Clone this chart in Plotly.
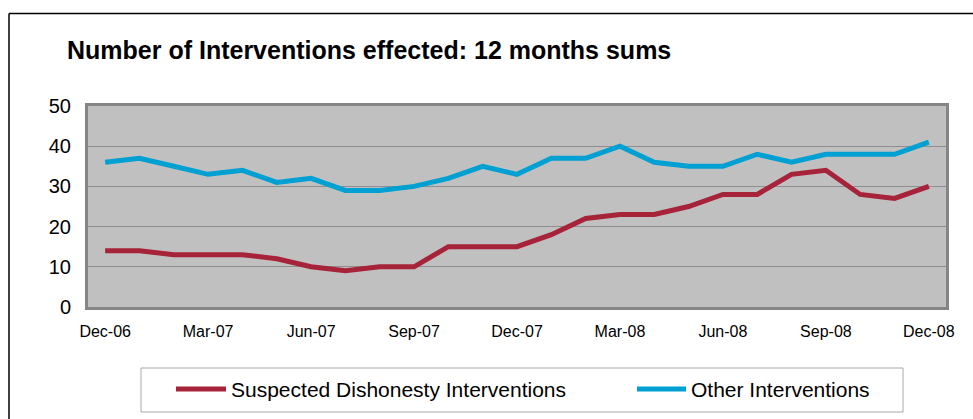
import plotly.graph_objects as go

months = ["Dec-06", "Jan-07", "Feb-07", "Mar-07", "Apr-07", "May-07", "Jun-07", "Jul-07",
          "Aug-07", "Sep-07", "Oct-07", "Nov-07", "Dec-07", "Jan-08", "Feb-08", "Mar-08",
          "Apr-08", "May-08", "Jun-08", "Jul-08", "Aug-08", "Sep-08", "Oct-08", "Nov-08", "Dec-08"]
dishonesty = [14, 14, 13, 13, 13, 12, 10, 9, 10, 10, 15, 15, 15, 18, 22, 23, 23, 25, 28, 28, 33, 34, 28, 27, 30]
other = [36, 37, 35, 33, 34, 31, 32, 29, 29, 30, 32, 35, 33, 37, 37, 40, 36, 35, 35, 38, 36, 38, 38, 38, 41]
tick_labels = ["Dec-06", "Mar-07", "Jun-07", "Sep-07", "Dec-07", "Mar-08", "Jun-08", "Sep-08", "Dec-08"]
y_ticks = [0, 10, 20, 30, 40, 50]
series_names = ["Suspected Dishonesty Interventions", "Other Interventions"]

RED = "#A6233A"
BLUE = "#00A0D2"
FONT = "Liberation Sans, Arial, sans-serif"

WIDTH, HEIGHT = 973, 419
L, R, T, B = 88, 27, 106, 112
PW = WIDTH - L - R
PH = HEIGHT - T - B


def px_x(px):
    return (px - L) / PW


def px_y(py):
    return (HEIGHT - B - py) / PH


fig = go.Figure()
fig.add_trace(go.Scatter(x=months, y=dishonesty, mode="lines", name=series_names[0],
                         line=dict(color=RED, width=5), showlegend=False))
fig.add_trace(go.Scatter(x=months, y=other, mode="lines", name=series_names[1],
                         line=dict(color=BLUE, width=5), showlegend=False))

shapes = []
# outer chart frame (left and top edges visible)
shapes.append(dict(type="line", xref="paper", yref="paper", x0=px_x(9), x1=px_x(9),
                   y0=px_y(13.5), y1=px_y(430), line=dict(color="black", width=1.5)))
shapes.append(dict(type="line", xref="paper", yref="paper", x0=px_x(9), x1=px_x(990),
                   y0=px_y(13.5), y1=px_y(13.5), line=dict(color="black", width=1.5)))
# legend box
shapes.append(dict(type="rect", xref="paper", yref="paper", x0=px_x(141), x1=px_x(903),
                   y0=px_y(368), y1=px_y(412), line=dict(color="#A8A8A8", width=1),
                   fillcolor="white"))
# legend samples
shapes.append(dict(type="line", xref="paper", yref="paper", x0=px_x(176), x1=px_x(226),
                   y0=px_y(389), y1=px_y(389), line=dict(color=RED, width=5)))
shapes.append(dict(type="line", xref="paper", yref="paper", x0=px_x(637), x1=px_x(686),
                   y0=px_y(389), y1=px_y(389), line=dict(color=BLUE, width=5)))

annotations = [
    dict(text=series_names[0], xref="paper", yref="paper", x=px_x(229), y=px_y(389),
         xanchor="left", yanchor="middle", showarrow=False,
         font=dict(family=FONT, size=21, color="black")),
    dict(text=series_names[1], xref="paper", yref="paper", x=px_x(689), y=px_y(389),
         xanchor="left", yanchor="middle", showarrow=False,
         font=dict(family=FONT, size=21, color="black")),
]

fig.update_layout(
    width=WIDTH, height=HEIGHT,
    margin=dict(l=L, r=R, t=T, b=B),
    paper_bgcolor="white",
    plot_bgcolor="#C0C0C0",
    font=dict(family=FONT, color="black"),
    title=dict(text="<b>Number of Interventions effected: 12 months sums</b>",
               x=67 / WIDTH, xanchor="left", xref="container",
               y=1 - 50 / HEIGHT, yanchor="middle", yref="container",
               font=dict(family=FONT, size=25, color="black")),
    showlegend=False,
    shapes=shapes,
    annotations=annotations,
)
fig.update_xaxes(type="category", categoryorder="array", categoryarray=months,
                 range=[-0.5, len(months) - 0.5],
                 tickmode="array", tickvals=tick_labels, ticktext=tick_labels,
                 showgrid=False, ticks="", ticklabelstandoff=8,
                 tickfont=dict(family=FONT, size=16, color="black"),
                 showline=True, mirror=True, linecolor="#858585", linewidth=3, zeroline=False)
fig.update_yaxes(range=[0, 50], tickmode="array", tickvals=y_ticks,
                 showgrid=True, gridcolor="#8E8E8E", gridwidth=1,
                 ticks="", ticklabelstandoff=10,
                 tickfont=dict(family=FONT, size=20, color="black"),
                 showline=True, mirror=True, linecolor="#858585", linewidth=3, zeroline=False)

fig.write_html("out.html")
